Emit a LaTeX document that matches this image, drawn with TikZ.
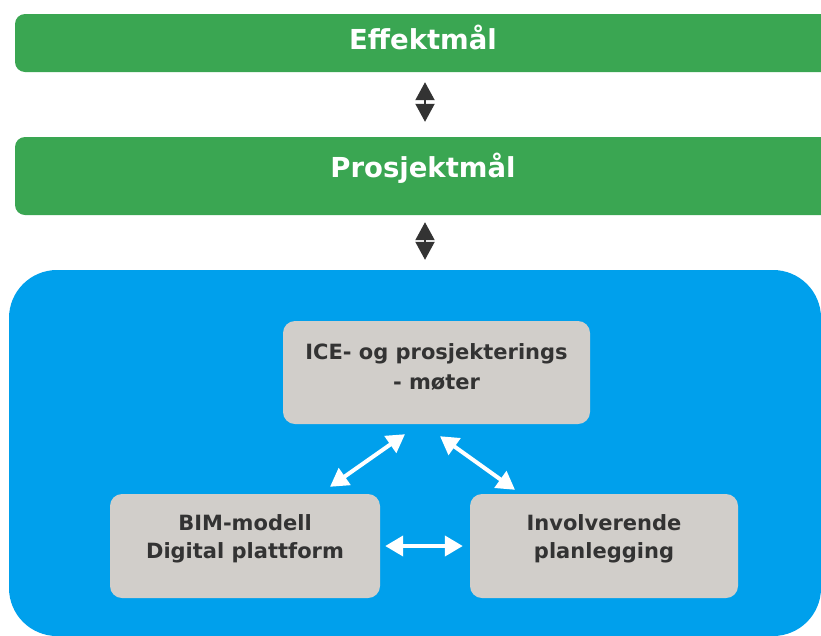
\documentclass[tikz,border=0pt]{standalone}
\usepackage{fontspec}
\setmainfont{DejaVu Sans}
\usepackage{tikz}
\usetikzlibrary{arrows.meta,positioning,calc}
\usepackage{xcolor}
\definecolor{cGreen}{RGB}{58,166,82}
\definecolor{cBlue}{RGB}{0,160,236}
\definecolor{cGrey}{RGB}{209,206,202}
\definecolor{cDark}{RGB}{51,51,51}
\tikzset{
	malbar/.style={fill=cGreen,rounded corners=10pt,minimum width=816pt,
		inner sep=0pt,text=white,
		font=\fontsize{27.5}{32}\selectfont\bfseries},
	tiltak/.style={fill=cGrey,rounded corners=12pt,inner sep=0pt,
		align=center,text=cDark,font=\fontsize{21}{28}\selectfont\bfseries},
	darr/.style={{Triangle[length=18pt,width=19pt]}-{Triangle[length=18pt,width=19pt]},
		line width=2pt,draw=cDark},
	warr/.style={{Triangle[length=18pt,width=20pt]}-{Triangle[length=18pt,width=20pt]},
		line width=4pt,draw=white},
}
\begin{document}
\begin{tikzpicture}[x=1pt,y=-1pt]
	\useasboundingbox (0,0) rectangle (821,635);
	\clip (0,0) rectangle (821,635);
	% maal
	\node[malbar,minimum height=58pt,text depth=12pt] (effekt) at (423,43) {Effektmål};
	\node[malbar,minimum height=78pt,text depth=22pt] (prosjekt) at (423,176) {Prosjektmål};
	% omraade
	\node[fill=cBlue,rounded corners=48pt,minimum width=812pt,minimum height=366pt,
		inner sep=0pt] (omraade) at (415,453) {};
	% tiltak
	\node[tiltak,minimum width=307pt,minimum height=103pt,text depth=12pt,
		font=\fontsize{21}{30}\selectfont\bfseries] (ice) at (436.5,372.5)
		{ICE- og prosjekterings\\- møter};
	\node[tiltak,minimum width=270pt,minimum height=104pt,text depth=18pt] (bim) at (245,546)
		{BIM-modell\\Digital plattform};
	\node[tiltak,minimum width=268pt,minimum height=104pt,text depth=18pt] (plan) at (604,546)
		{Involverende\\planlegging};
	% piler
	\draw[darr,shorten <=10pt,shorten >=15pt] ([xshift=2pt]effekt.south) -- ([xshift=2pt]prosjekt.north);
	\draw[darr,shorten <=7pt,shorten >=10pt] ([xshift=2pt]prosjekt.south) -- ([xshift=2pt]omraade.north -| prosjekt.south);
	\draw[warr] ($(bim.north)+(85,-7)$) -- ($(ice.south)+(-31.5,10)$);
	\draw[warr] ($(ice.south)+(3.5,12)$) -- ($(plan.north)+(-89,-4)$);
	\draw[warr,shorten <=5pt,shorten >=7pt] (bim.east) -- (plan.west);
\end{tikzpicture}
\end{document}
